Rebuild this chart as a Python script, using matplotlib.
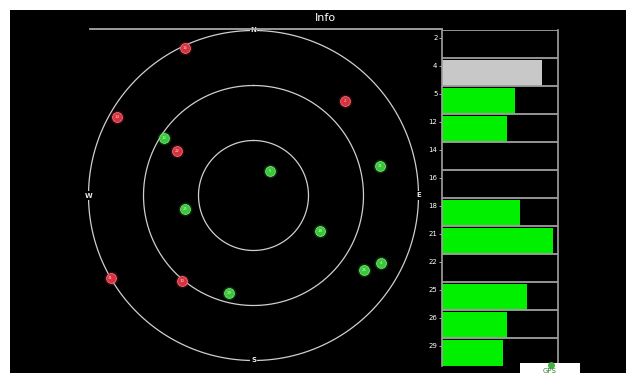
import numpy as np
import matplotlib
matplotlib.use("Agg")
import matplotlib.pyplot as plt
from matplotlib.lines import Line2D
from matplotlib.patches import Rectangle

# Sky positions (azimuth deg, elevation deg) of tracked satellites
used_ids = ["12", "5", "21", "25", "18", "29", "26", "4"]
used_az = [303, 35, 77, 259, 118, 194, 124, 118]
used_el = [32, 74, 19, 52, 49, 35, 17, 11]

unused_ids = ["16", "14", "2", "22", "31", "10"]
unused_az = [335, 300, 44, 300, 240, 220]
unused_el = [1, 4, 18, 42, 0, 29]

# Signal strength per PRN (dB-Hz)
prn_labels = ["2", "4", "5", "12", "14", "16", "18", "21", "22", "25", "26", "29"]
snr_values = [0, 43, 31.5, 28, 0, 0, 33.5, 48, 0, 36.5, 28, 26.5]
snr_state = ["none", "idle", "used", "used", "none", "none", "used", "used",
             "none", "used", "used", "used"]

W, H = 626, 373
fig = plt.figure(figsize=(W / 100, H / 100), dpi=100, facecolor="white")

# black panel
bg = fig.add_axes([10 / W, 0, 1 - 10 / W, 1 - 10 / H])
bg.set_facecolor("black")
bg.set_xticks([]); bg.set_yticks([])
for s in bg.spines.values():
    s.set_visible(False)

fig.text(325 / W, 1 - 18 / H, "Info", color="white", ha="center", va="center",
         fontsize=8, family="DejaVu Sans")

# top rule
fig.add_artist(Line2D([90 / W, 442 / W], [1 - 29 / H, 1 - 29 / H],
                      color="#a8a8a8", lw=1.3))

# ---- sky plot ----
cx, cy, R = 253.5, 195.5, 165
ax = fig.add_axes([(cx - R) / W, 1 - (cy + R) / H, 2 * R / W, 2 * R / H],
                  projection="polar")
ax.set_facecolor("none")
ax.set_theta_zero_location("N")
ax.set_theta_direction(-1)
ax.set_ylim(0, 90)
ax.grid(False)
ax.set_xticks([]); ax.set_yticks([])
ax.spines["polar"].set_visible(False)
th = np.linspace(0, 2 * np.pi, 400)
for rr in (30, 60, 90):
    ax.plot(th, np.full_like(th, rr), color="#cfcfcf", lw=0.9, zorder=1,
            clip_on=False)

for lab, az in (("N", 0), ("E", 90), ("S", 180), ("W", 270)):
    ax.text(np.deg2rad(az), 90, lab, color="#e8e8e8", fontsize=5, ha="center",
            va="center", zorder=5, fontweight="bold",
            bbox=dict(boxstyle="square,pad=0.15", fc="black", ec="none"))


def draw_sats(ids, az, el, face, edge):
    t = np.deg2rad(az)
    r = 90 - np.asarray(el, dtype=float)
    # soft glow
    ax.scatter(t, r, s=100, color=face, alpha=0.22, linewidths=0, zorder=3,
               clip_on=False)
    ax.scatter(t, r, s=50, color=face, edgecolors=edge, linewidths=0.6,
               zorder=4, clip_on=False)
    for i, tt, rr in zip(ids, t, r):
        ax.text(tt, rr, i, color="white", fontsize=2.8, ha="center",
                va="center", zorder=6, alpha=0.8)


draw_sats(used_ids, used_az, used_el, "#38c838", "#7ee07e")
draw_sats(unused_ids, unused_az, unused_el, "#d8303c", "#f07080")

# ---- signal bars ----
top_px, bot_px = 30, 366
bx = fig.add_axes([441.7 / W, 1 - bot_px / H, (558 - 441.7) / W, (bot_px - top_px) / H])
bx.set_facecolor("black")
n = len(prn_labels)
pos = np.arange(n)
colors = {"used": "#00f000", "idle": "#c8c8c8", "none": "black"}
bx.barh(pos + 0.03, snr_values, height=0.94,
        color=[colors[s] for s in snr_state], zorder=2)
for p in pos:
    bx.axhline(p - 0.5, color="#a0a0a0", lw=1.3, zorder=3)
bx.set_xlim(0, 50)
bx.set_ylim(n - 0.5, -0.5)
bx.set_xticks([])
bx.set_yticks(pos - 0.22)
bx.set_yticklabels(prn_labels, color="white", fontsize=5)
bx.tick_params(axis="y", colors="#bbbbbb", length=2, width=0.6, pad=1,
               labelcolor="white")
for side in ("left", "right"):
    bx.spines[side].set_color("#a0a0a0")
    bx.spines[side].set_linewidth(1.2)
for side in ("top", "bottom"):
    bx.spines[side].set_visible(False)

# legend box, partly below the lower edge
fig.add_artist(Rectangle((520 / W, 0), 60 / W, 10 / H, transform=fig.transFigure,
                         fc="white", ec="none", zorder=10))
fig.add_artist(Line2D([551 / W], [1 - 364.5 / H], marker="o", markersize=4,
                      color="#40b040", transform=fig.transFigure, zorder=11))
fig.text(550 / W, 1 - 371 / H, "GPS", color="#308030", fontsize=5,
         ha="center", va="center", zorder=11)

fig.savefig("out.png", dpi=100, facecolor=fig.get_facecolor())
